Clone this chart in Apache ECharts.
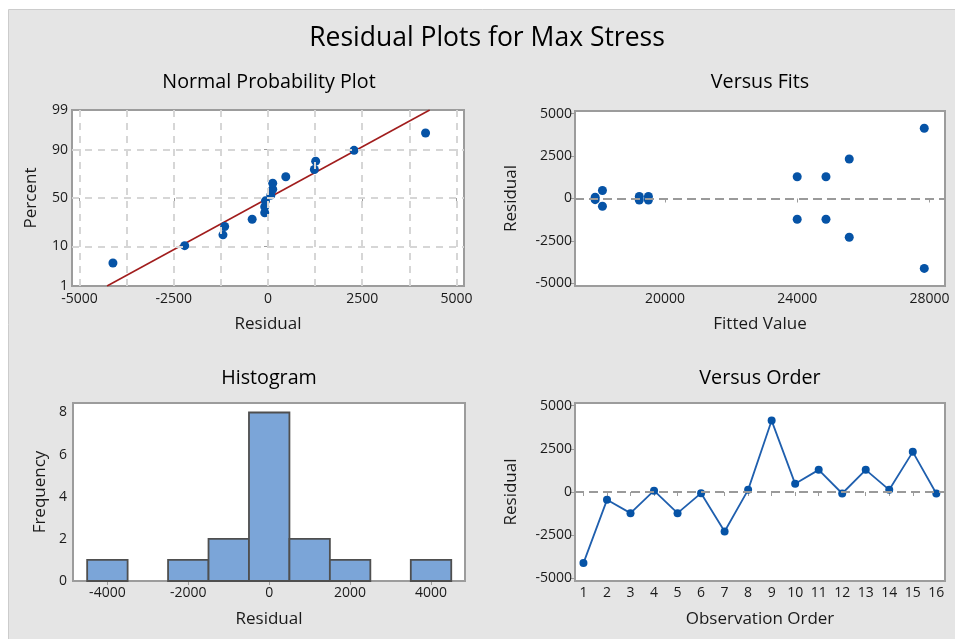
<!DOCTYPE html>
<html>
<head>
<meta charset="utf-8">
<script src="https://cdn.jsdelivr.net/npm/echarts@6/dist/echarts.min.js"></script>
<style>
html,body{margin:0;padding:0;background:#ffffff;}
#main{width:955px;height:639px;}
</style>
</head>
<body>
<div id="main"></div>
<script>
// ---------------- DATA ----------------
const observationOrder = [1, 2, 3, 4, 5, 6, 7, 8, 9, 10, 11, 12, 13, 14, 15, 16];
const residuals = [-4114, -453, -1224, 75, -1224, -67, -2283, 125, 4133, 472, 1281, -87, 1281, 125, 2322, -87];
const fittedValues = [27843, 18110, 24000, 17890, 24870, 17890, 25574, 19224, 27843, 18110, 24000, 19224, 24870, 19500, 25574, 19500];

// normal probability plot (sorted residuals with their plotted percents)
const probResiduals = [-4114, -2210, -1195, -1150, -420, -87, -87, -67, 75, 125, 125, 472, 1230, 1265, 2283, 4180];
const probPercents = [4.3, 10.4, 16.5, 22.6, 28.7, 34.8, 40.9, 47.0, 53.0, 59.1, 65.2, 71.3, 77.4, 83.5, 89.6, 95.7];
const fitLineResidual = [-4270, 4290];
const fitLinePercent = [1, 99];

// histogram
const histCenters = [-4000, -3000, -2000, -1000, 0, 1000, 2000, 3000, 4000];
const histCounts = [1, 0, 1, 2, 8, 2, 1, 0, 1];
const binWidth = 1000;

// tick labels
const percentTicks = [1, 10, 50, 90, 99];
const probXTicks = [-5000, -2500, 0, 2500, 5000];
const probXGrid = [-5000, -3750, -2500, -1250, 0, 1250, 2500, 3750, 5000];
const residualTicks = [-5000, -2500, 0, 2500, 5000];
const fitTicks = [20000, 24000, 28000];
const histXTicks = [-4000, -2000, 0, 2000, 4000];
const freqTicks = [0, 2, 4, 6, 8];
const orderTicks = [1, 2, 3, 4, 5, 6, 7, 8, 9, 10, 11, 12, 13, 14, 15, 16];

// ---------------- HELPERS ----------------
function invNorm(p) {
  const a = [-3.969683028665376e+01, 2.209460984245205e+02, -2.759285104469687e+02, 1.383577518672690e+02, -3.066479806614716e+01, 2.506628277459239e+00];
  const b = [-5.447609879822406e+01, 1.615858368580409e+02, -1.556989798598866e+02, 6.680131188771972e+01, -1.328068155288572e+01];
  const c = [-7.784894002430293e-03, -3.223964580411365e-01, -2.400758277161838e+00, -2.549732539343734e+00, 4.374664141464968e+00, 2.938163982698783e+00];
  const d = [7.784695709041462e-03, 3.224671290700398e-01, 2.445134137142996e+00, 3.754408661907416e+00];
  const plow = 0.02425, phigh = 1 - plow;
  let q, r;
  if (p < plow) {
    q = Math.sqrt(-2 * Math.log(p));
    return (((((c[0]*q+c[1])*q+c[2])*q+c[3])*q+c[4])*q+c[5]) / ((((d[0]*q+d[1])*q+d[2])*q+d[3])*q+1);
  } else if (p <= phigh) {
    q = p - 0.5; r = q * q;
    return (((((a[0]*r+a[1])*r+a[2])*r+a[3])*r+a[4])*r+a[5])*q / (((((b[0]*r+b[1])*r+b[2])*r+b[3])*r+b[4])*r+1);
  } else {
    q = Math.sqrt(-2 * Math.log(1 - p));
    return -(((((c[0]*q+c[1])*q+c[2])*q+c[3])*q+c[4])*q+c[5]) / ((((d[0]*q+d[1])*q+d[2])*q+d[3])*q+1);
  }
}
const z = p => invNorm(p / 100);

const FONT = '"Open Sans", "Noto Sans", sans-serif';
const TXT = '#1a1a1a';
const FRAME = '#9c9c9c';
const BLUE = '#0653a6';

function gridBox(left, top, width, height) {
  return { left, top, width, height, show: true, backgroundColor: '#ffffff', borderColor: FRAME, borderWidth: 2, containLabel: false };
}
function valueAxis(opts) {
  return {
    type: 'value',
    gridIndex: opts.grid,
    min: opts.min, max: opts.max,
    axisLine: { show: false },
    splitLine: { show: false },
    axisTick: { show: true, inside: false, length: 4, customValues: opts.ticks, lineStyle: { color: FRAME, width: 1 } },
    axisLabel: { show: true, customValues: opts.ticks, margin: opts.margin, fontFamily: FONT, fontSize: 14, color: TXT, formatter: opts.formatter || (v => String(v)) },
    name: opts.name, nameLocation: 'middle', nameGap: opts.nameGap,
    nameTextStyle: { fontFamily: FONT, fontSize: 17, color: TXT }
  };
}

const zeroLine = {
  silent: true, symbol: 'none', label: { show: false },
  lineStyle: { color: '#9a9a9a', type: [9, 5], width: 2 },
  data: [{ yAxis: 0 }]
};

// ---------------- CHART ----------------
const chart = echarts.init(document.getElementById('main'), null, { renderer: 'canvas' });

const option = {
  animation: false,
  backgroundColor: '#ffffff',
  graphic: [
    { type: 'rect', z: -10, shape: { x: 8.5, y: 9.5, width: 960, height: 640 }, style: { fill: '#e5e5e5', stroke: '#cccccc', lineWidth: 1 } },
    { type: 'text', style: { text: 'Residual Plots for Max Stress', x: 487, y: 38, textAlign: 'center', textVerticalAlign: 'middle', font: '26.5px ' + FONT, fill: '#000' } },
    { type: 'text', style: { text: 'Normal Probability Plot', x: 269, y: 82, textAlign: 'center', textVerticalAlign: 'middle', font: '19.7px ' + FONT, fill: '#000' } },
    { type: 'text', style: { text: 'Versus Fits', x: 760, y: 82, textAlign: 'center', textVerticalAlign: 'middle', font: '19.7px ' + FONT, fill: '#000' } },
    { type: 'text', style: { text: 'Histogram', x: 269, y: 378, textAlign: 'center', textVerticalAlign: 'middle', font: '19.7px ' + FONT, fill: '#000' } },
    { type: 'text', style: { text: 'Versus Order', x: 760, y: 378, textAlign: 'center', textVerticalAlign: 'middle', font: '19.7px ' + FONT, fill: '#000' } }
  ],
  grid: [
    gridBox(72, 110, 392, 176),
    gridBox(575, 111, 370, 175),
    gridBox(73, 403, 392, 178),
    gridBox(575, 403, 370, 178)
  ],
  xAxis: [
    valueAxis({ grid: 0, min: -5200, max: 5200, ticks: probXTicks, margin: 6, name: 'Residual', nameGap: 30 }),
    valueAxis({ grid: 1, min: 17280, max: 28470, ticks: fitTicks, margin: 6, name: 'Fitted Value', nameGap: 30 }),
    valueAxis({ grid: 2, min: -4850, max: 4840, ticks: histXTicks, margin: 5, name: 'Residual', nameGap: 30 }),
    valueAxis({ grid: 3, min: 0.64, max: 16.37, ticks: orderTicks, margin: 5, name: 'Observation Order', nameGap: 30 })
  ],
  yAxis: [
    valueAxis({ grid: 0, min: z(fitLinePercent[0]), max: z(fitLinePercent[1]), ticks: percentTicks.map(z), margin: 4, name: 'Percent', nameGap: 32,
      formatter: v => { let best = percentTicks[0], bd = Infinity; percentTicks.forEach(p => { const dd = Math.abs(z(p) - v); if (dd < bd) { bd = dd; best = p; } }); return String(best); } }),
    valueAxis({ grid: 1, min: -5150, max: 5150, ticks: residualTicks, margin: 3, name: 'Residual', nameGap: 55 }),
    valueAxis({ grid: 2, min: 0, max: 8.45, ticks: freqTicks, margin: 6, name: 'Frequency', nameGap: 24 }),
    valueAxis({ grid: 3, min: -5150, max: 5150, ticks: residualTicks, margin: 3, name: 'Residual', nameGap: 55 })
  ],
  series: [
    // normal probability grid lines
    {
      type: 'line', xAxisIndex: 0, yAxisIndex: 0, data: [], z: 1,
      markLine: {
        silent: true, symbol: 'none', label: { show: false },
        lineStyle: { color: '#d6d6d6', type: [7, 6], width: 2 },
        data: probXGrid.map(x => ({ xAxis: x })).concat(percentTicks.slice(1, -1).map(p => ({ yAxis: z(p) })))
      }
    },
    {
      type: 'line', xAxisIndex: 0, yAxisIndex: 0, z: 3,
      data: fitLineResidual.map((x, i) => [x, z(fitLinePercent[i])]),
      symbol: 'none', lineStyle: { color: '#a11d1d', width: 1.6 }
    },
    {
      type: 'scatter', xAxisIndex: 0, yAxisIndex: 0, z: 4,
      data: probResiduals.map((x, i) => [x, z(probPercents[i])]),
      symbol: 'circle', symbolSize: 9, itemStyle: { color: BLUE, opacity: 1 }
    },
    // versus fits
    {
      type: 'scatter', xAxisIndex: 1, yAxisIndex: 1, z: 4,
      data: fittedValues.map((f, i) => [f, residuals[i]]),
      symbol: 'circle', symbolSize: 9, itemStyle: { color: BLUE, opacity: 1 },
      markLine: zeroLine
    },
    // histogram
    {
      type: 'custom', xAxisIndex: 2, yAxisIndex: 2, z: 3,
      data: histCenters.map((c, i) => [c, histCounts[i]]),
      encode: { x: 0, y: 1 },
      renderItem: function (params, api) {
        const c = api.value(0), n = api.value(1);
        if (!n) return null;
        const p0 = api.coord([c - binWidth / 2, n]);
        const p1 = api.coord([c + binWidth / 2, 0]);
        return {
          type: 'rect',
          shape: { x: p0[0], y: p0[1], width: p1[0] - p0[0], height: p1[1] - p0[1] },
          style: { fill: '#7ba5d8', stroke: '#4f4f4f', lineWidth: 1.8 }
        };
      }
    },
    // versus order
    {
      type: 'line', xAxisIndex: 3, yAxisIndex: 3, z: 4,
      data: observationOrder.map((o, i) => [o, residuals[i]]),
      symbol: 'circle', symbolSize: 8, showSymbol: true,
      lineStyle: { color: '#1f5fae', width: 1.8 },
      itemStyle: { color: BLUE, opacity: 1 },
      markLine: zeroLine
    }
  ]
};
chart.setOption(option);
</script>
</body>
</html>
